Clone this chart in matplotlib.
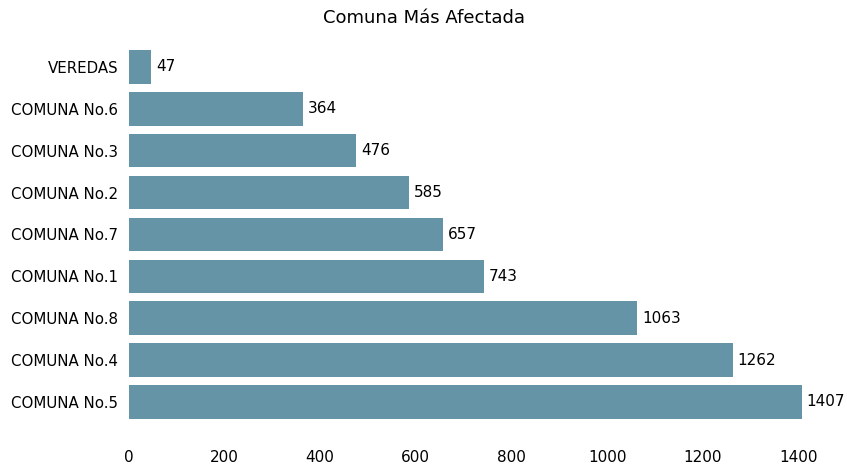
import matplotlib
matplotlib.use('Agg')
import matplotlib.pyplot as plt

# Data
comunas = ['COMUNA No.5', 'COMUNA No.4', 'COMUNA No.8', 'COMUNA No.1', 'COMUNA No.7',
           'COMUNA No.2', 'COMUNA No.3', 'COMUNA No.6', 'VEREDAS']
casos = [1407, 1262, 1063, 743, 657, 585, 476, 364, 47]
xticks = [0, 200, 400, 600, 800, 1000, 1200, 1400]

fig = plt.figure(figsize=(8.47, 4.67), dpi=100)
ax = fig.add_axes([0.152, 0.064, 0.836, 0.868])

bars = ax.barh(comunas, casos, height=0.8, color='#6494a6')
for b, v in zip(bars, casos):
    ax.text(b.get_width() + 10, b.get_y() + b.get_height() / 2, str(v),
            va='center', ha='left', fontsize=11)

ax.set_xlim(0, 1480)
ax.set_ylim(-0.84, 8.84)
ax.set_xticks(xticks)
ax.tick_params(axis='both', length=0, labelsize=11)
ax.tick_params(axis='y', pad=7.5, labelsize=10.8)
ax.tick_params(axis='x', pad=9)
for s in ax.spines.values():
    s.set_visible(False)
fig.suptitle('Comuna Más Afectada', y=0.98, fontsize=13)

fig.savefig('out.png', dpi=100)
